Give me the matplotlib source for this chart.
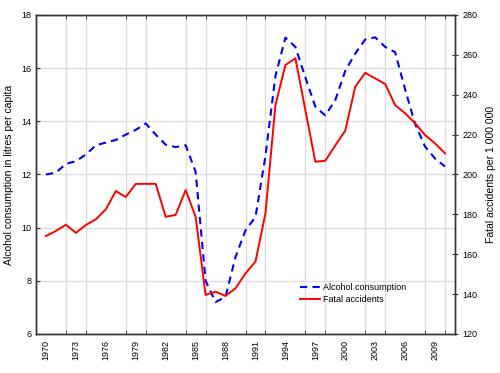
import matplotlib.pyplot as plt

plt.rcParams['font.family'] = ['Liberation Sans', 'DejaVu Sans']

years = list(range(1970, 2011))
alcohol = [12.0, 12.07, 12.4, 12.5, 12.75, 13.1, 13.2, 13.3, 13.5, 13.68,
           13.92, 13.5, 13.12, 13.03, 13.1, 12.1, 8.0, 7.2, 7.4, 8.9,
           9.9, 10.4, 12.7, 15.7, 17.15, 16.8, 15.65, 14.55, 14.22, 14.8,
           15.9, 16.55, 17.08, 17.16, 16.8, 16.6, 15.2, 13.9, 13.05, 12.6,
           12.3]
fatal = [169.1, 171.7, 174.8, 170.7, 174.7, 177.5, 182.5, 191.7, 188.7, 195.3,
         195.3, 195.3, 178.8, 179.7, 192.2, 178.8, 139.6, 141.2, 139.1, 142.9,
         150.4, 156.3, 180.5, 234.8, 254.9, 258.3, 232.3, 206.4, 206.9, 214.6,
         222.0, 244.0, 251.0, 248.2, 245.4, 234.8, 230.7, 225.7, 219.8, 215.6,
         210.6]
label_years = list(range(1970, 2010, 3))

fig = plt.figure(figsize=(5, 3.73), dpi=100)
ax = fig.add_axes([0.072, 0.1046, 0.838, 0.8552])
ax2 = ax.twinx()

l1, = ax.plot(years, alcohol, color='blue', lw=1.5, ls=(0, (3.5, 2.5)),
              label='Alcohol consumption')
l2, = ax2.plot(years, fatal, color='red', lw=1.4, label='Fatal accidents')

ax.set_xlim(1969, 2011)
ax.set_ylim(6, 18)
ax2.set_ylim(120, 280)
ax.set_yticks(range(6, 19, 2))
ax2.set_yticks(range(120, 281, 20))

ax.set_xticks(label_years)
ax.set_xticklabels([str(y) for y in label_years], rotation=90)
ax.set_xticks(range(1970, 2011, 2), minor=True)
ax.tick_params(axis='x', which='major', length=0, labelsize=6.5, pad=4)
ax.tick_params(axis='x', which='minor', direction='in', length=3,
               top=True, color='#333333')
ax.tick_params(axis='y', direction='in', length=3, labelsize=6.5,
               color='#333333')
ax2.tick_params(axis='y', direction='inout', length=4, labelsize=6.5,
                color='#333333')

ax.grid(True, which='minor', axis='x', color='#dddddd', lw=1)
ax.grid(True, which='major', axis='y', color='#dddddd', lw=1)
ax.set_axisbelow(True)

for a in (ax, ax2):
    for s in a.spines.values():
        s.set_color('#333333')
        s.set_linewidth(1)

ax.set_ylabel('Alcohol consumption in litres per capita', fontsize=7.5,
              labelpad=5)
ax2.set_ylabel('Fatal accidents per 1 000 000', fontsize=7.5, labelpad=6,
               rotation=90)

leg = ax2.legend(handles=[l1, l2], loc='upper left',
                 bbox_to_anchor=(0.62, 0.175), frameon=False, fontsize=6.5,
                 handlelength=2.2, handletextpad=0.3, labelspacing=0.4,
                 borderpad=0)

fig.savefig('out.png', dpi=100)
